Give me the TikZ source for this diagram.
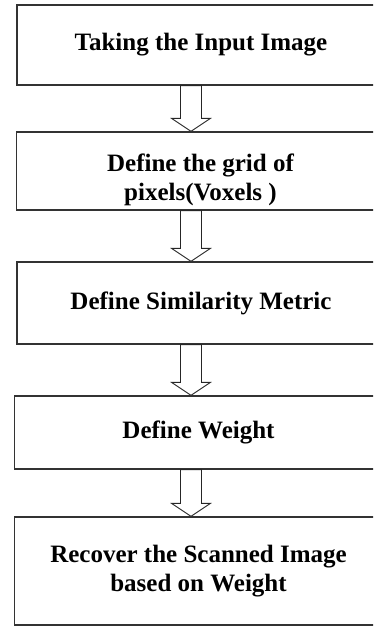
\documentclass[tikz,border=0pt]{standalone}
\usepackage{fontspec}
\setmainfont{Liberation Serif}
\usetikzlibrary{calc}
\begin{document}
\begin{tikzpicture}[x=1pt,y=1pt,
    stepbox/.style={draw=black!80,line width=1.3pt,inner sep=0pt,
      minimum width=368pt,align=center,
      font=\bfseries\fontsize{25}{29}\selectfont},
    flowarrow/.style={draw=black!85,line width=0.9pt,fill=white,line join=miter}]
    \useasboundingbox (0,0) rectangle (373,-627);
    \clip (0,0) rectangle (373,-627);
    % steps
    \node[stepbox,minimum height=80pt]  (take)    at (201,-45)    {Taking the Input Image};
    \node[stepbox,minimum height=78pt]  (grid)    at (200.5,-171) {\rule{0pt}{36pt}Define the grid of\\pixels(Voxels )};
    \node[stepbox,minimum height=82pt]  (sim)     at (201,-303)   {Define Similarity Metric};
    \node[stepbox,minimum height=73pt]  (weight)  at (198.5,-432.5) {Define Weight};
    \node[stepbox,minimum height=108pt] (recover) at (198.5,-571) {Recover the Scanned Image\\based on Weight};
    % hollow arrows
    \foreach \a/\b in {take/grid, grid/sim, sim/weight, weight/recover}{%
      \draw[flowarrow] let \p1=(\a.south), \p2=(\b.north) in
        (191-10.5,\y1) -- (191-10.5,\y2+13) -- (191-19.5,\y2+13) --
        (191,\y2) -- (191+19.5,\y2+13) -- (191+10.5,\y2+13) --
        (191+10.5,\y1) -- cycle;}
\end{tikzpicture}
\end{document}
